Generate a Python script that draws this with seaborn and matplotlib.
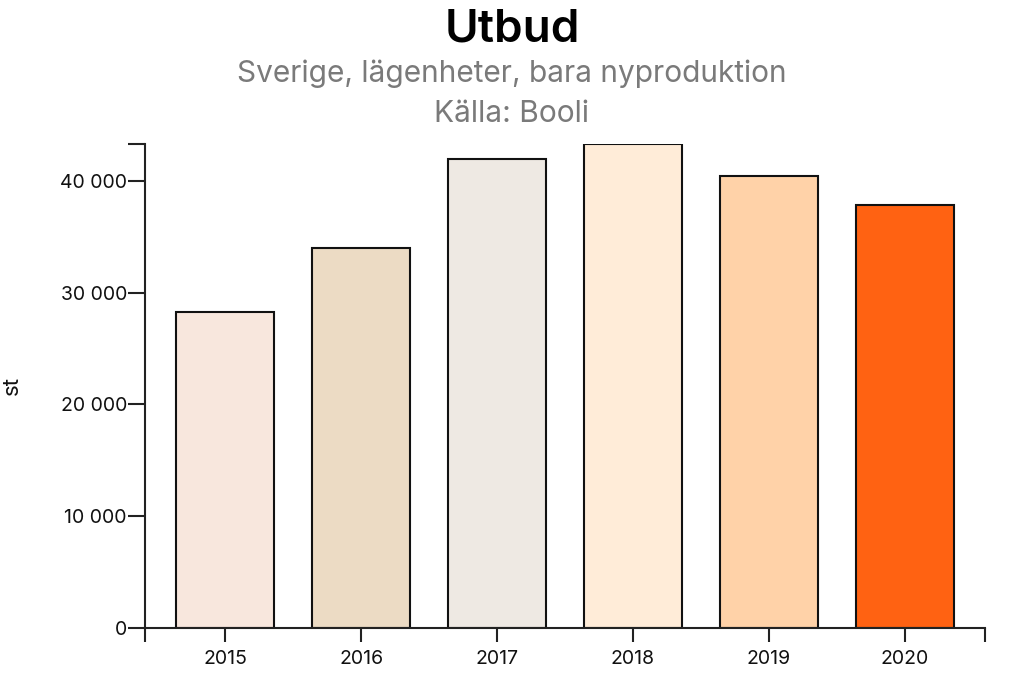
import matplotlib
matplotlib.use("Agg")
import matplotlib.pyplot as plt
import matplotlib.ticker as mticker
import seaborn as sns
import pandas as pd

years = ["2015", "2016", "2017", "2018", "2019", "2020"]
utbud = [28300, 34000, 42000, 43300, 40400, 37800]
bar_colors = ["#f8e7dd", "#ecdbc4", "#eee9e3", "#ffecd8", "#ffd2a8", "#ff6212"]

df = pd.DataFrame({"year": years, "utbud": utbud})

sns.set_style("white")
plt.rcParams["font.family"] = ["Inter", "DejaVu Sans"]

fig = plt.figure(figsize=(10.24, 6.91), dpi=100)
ax = fig.add_axes([0.1416, 0.0912, 0.8203, 0.7004])

sns.barplot(data=df, x="year", y="utbud", hue="year", palette=bar_colors,
            legend=False, width=0.72, edgecolor="#111111", linewidth=1.5,
            saturation=1, ax=ax)

ax.set_xlim(-0.59, 5.59)
ax.set_ylim(0, max(utbud))
ax.yaxis.set_major_locator(mticker.MultipleLocator(10000))
ax.yaxis.set_major_formatter(mticker.FuncFormatter(lambda v, p: f"{int(v):,}".replace(",", " ")))

# end caps on the spines
ax.set_xticks([-0.59, 5.59], minor=True)
ax.set_yticks([max(utbud)], minor=True)

for s in ["top", "right"]:
    ax.spines[s].set_visible(False)
for s in ["left", "bottom"]:
    ax.spines[s].set_color("#222222")
    ax.spines[s].set_linewidth(1.5)

ax.tick_params(axis="x", which="both", bottom=True, length=10, width=1.5,
               color="#222222", labelsize=14, labelcolor="#111111", pad=6)
ax.tick_params(axis="y", which="both", left=True, length=12, width=1.5,
               color="#222222", labelsize=14, labelcolor="#111111", pad=1)
ax.tick_params(which="minor", labelleft=False, labelbottom=False)

ax.set_xlabel("")
ax.set_ylabel("st", fontsize=16, color="#111111")
ax.yaxis.set_label_coords(-0.146, 0.5)

fig.text(0.5, 0.958, "Utbud", ha="center", va="center", fontsize=33,
         fontweight="semibold", color="#000000")
fig.text(0.5, 0.893, "Sverige, lägenheter, bara nyproduktion", ha="center",
         va="center", fontsize=21.5, color="#7a7a7a")
fig.text(0.5, 0.835, "Källa: Booli", ha="center", va="center", fontsize=21.5,
         color="#7a7a7a")

fig.savefig("out.png", dpi=100)
